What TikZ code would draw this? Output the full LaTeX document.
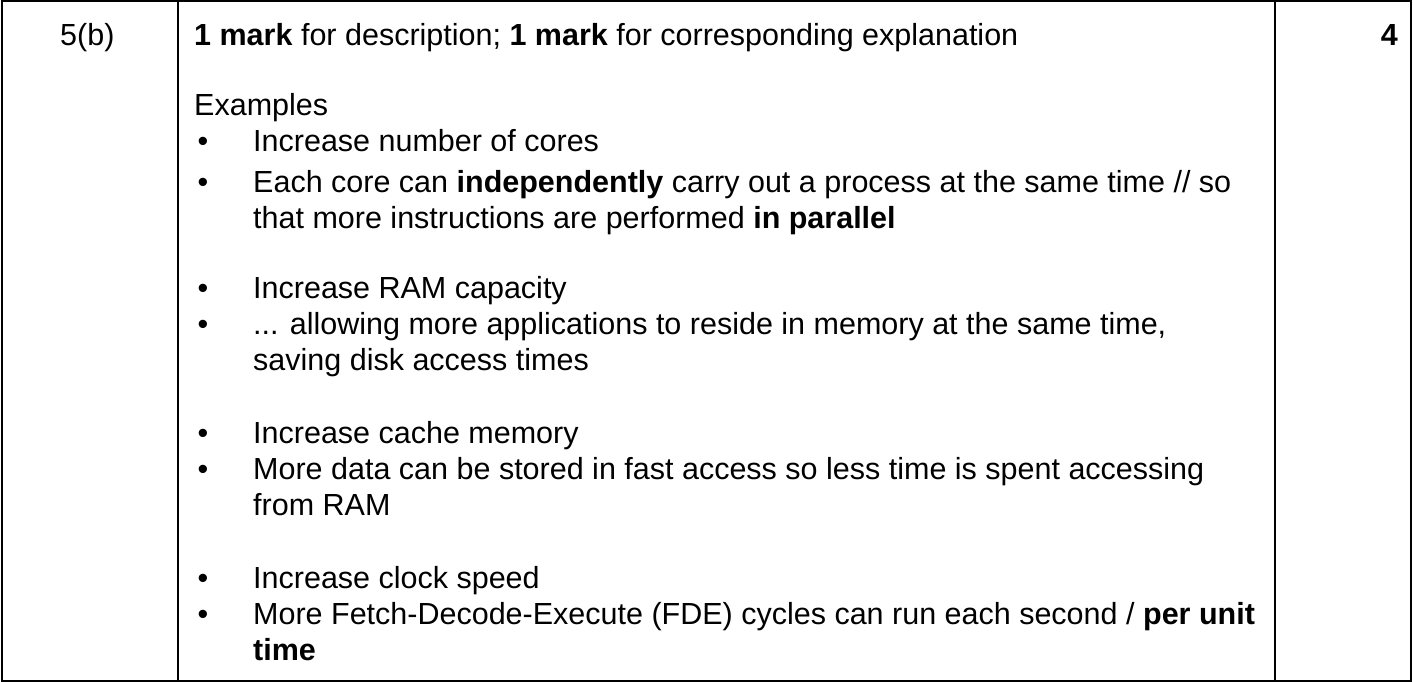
\documentclass[tikz,border=0pt]{standalone}
\usepackage{fontspec}
\setmainfont{Liberation Sans}
\begin{document}
\begin{tikzpicture}[x=1pt,y=-1pt,
  txt/.style={anchor=base west,inner sep=0pt,font=\fontsize{30.5}{36}\selectfont},
  bul/.style={anchor=base,inner sep=0pt,font=\fontsize{30.5}{36}\selectfont},
  rule/.style={line width=1.6pt}]
\useasboundingbox (0,0) rectangle (1413,682);
\draw[rule] (2,1) rectangle (1411,681);
\draw[rule] (178,1) -- (178,681);
\draw[rule] (1275,1) -- (1275,681);
\node[txt] (q) at (60,46) {5(b)};
\node[txt,anchor=base east] (m) at (1398,46) {\textbf{4}};
\node[txt] (h) at (194,46) {\textbf{1 mark} for description; \textbf{1 mark} for corresponding explanation};
\node[txt] (ex) at (194,116) {Examples};
\foreach \y/\t [count=\i] in {
 152/{Increase number of cores},
 192/{Each core can \textbf{independently} carry out a process at the same time // so},
 228/{that more instructions are performed \textbf{in parallel}},
 298/{Increase RAM capacity},
 334/{... allowing more applications to reside in memory at the same time,},
 370/{saving disk access times},
 443/{Increase cache memory},
 479/{More data can be stored in fast access so less time is spent accessing},
 515/{from RAM},
 588/{Increase clock speed},
 624/{More Fetch-Decode-Execute (FDE) cycles can run each second / \textbf{per unit}},
 660/{\textbf{time}}}
 { \node[txt] (l\i) at (253,\y) {\t}; }
\foreach \y [count=\i] in {152,192,298,334,443,479,588,624}
 { \node[bul] (b\i) at (203,\y) {\textbullet}; }
\end{tikzpicture}
\end{document}
